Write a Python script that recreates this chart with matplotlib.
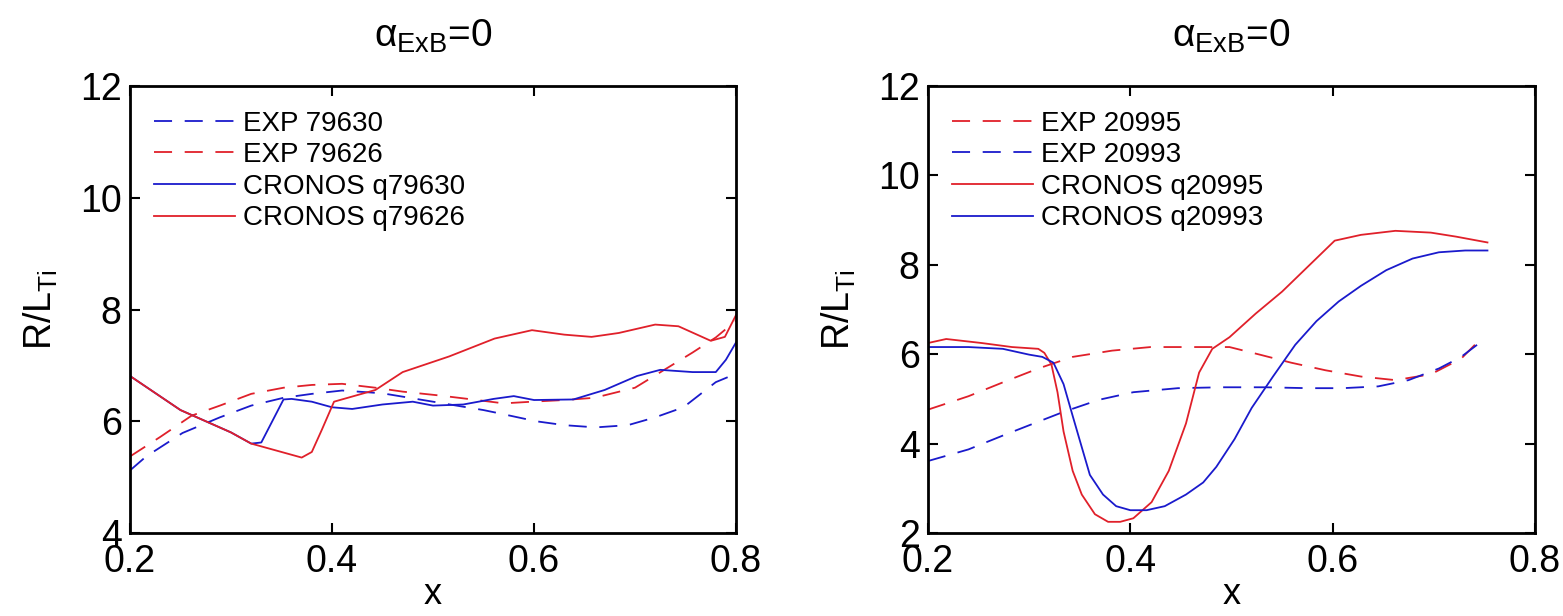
import matplotlib
matplotlib.use("Agg")
import matplotlib.pyplot as plt

plt.rcParams['font.family'] = ['Liberation Sans', 'DejaVu Sans']
plt.rcParams['mathtext.fontset'] = 'custom'
plt.rcParams['mathtext.rm'] = 'Liberation Sans'
plt.rcParams['mathtext.it'] = 'Liberation Sans'

# ---------------- Left panel data ----------------
L_exp79630_x = [0.20, 0.216, 0.252, 0.289, 0.32, 0.352, 0.38, 0.41, 0.45, 0.50, 0.55, 0.566, 0.602, 0.63, 0.661, 0.693, 0.72, 0.748, 0.78, 0.80]
L_exp79630_y = [5.12, 5.37, 5.79, 6.07, 6.28, 6.42, 6.49, 6.55, 6.50, 6.35, 6.20, 6.14, 6.00, 5.93, 5.89, 5.93, 6.07, 6.25, 6.70, 6.85]

L_exp79626_x = [0.20, 0.23, 0.261, 0.289, 0.32, 0.352, 0.38, 0.41, 0.443, 0.47, 0.507, 0.539, 0.57, 0.598, 0.63, 0.66, 0.70, 0.757, 0.78, 0.80]
L_exp79626_y = [5.37, 5.72, 6.10, 6.28, 6.49, 6.60, 6.65, 6.67, 6.60, 6.53, 6.46, 6.39, 6.32, 6.35, 6.38, 6.42, 6.60, 7.23, 7.50, 7.80]

L_cro79630_x = [0.20, 0.25, 0.30, 0.32, 0.33, 0.352, 0.36, 0.38, 0.40, 0.42, 0.45, 0.48, 0.50, 0.53, 0.56, 0.58, 0.60, 0.639, 0.67, 0.702, 0.725, 0.757, 0.78, 0.79, 0.80]
L_cro79630_y = [6.81, 6.20, 5.80, 5.60, 5.62, 6.39, 6.40, 6.35, 6.25, 6.22, 6.30, 6.35, 6.28, 6.30, 6.40, 6.45, 6.38, 6.39, 6.56, 6.81, 6.92, 6.88, 6.88, 7.10, 7.41]

L_cro79626_x = [0.20, 0.25, 0.30, 0.32, 0.35, 0.37, 0.38, 0.39, 0.402, 0.443, 0.47, 0.516, 0.561, 0.598, 0.63, 0.657, 0.684, 0.72, 0.743, 0.775, 0.789, 0.80]
L_cro79626_y = [6.81, 6.20, 5.80, 5.60, 5.45, 5.35, 5.45, 5.85, 6.35, 6.56, 6.88, 7.16, 7.48, 7.63, 7.55, 7.51, 7.58, 7.73, 7.70, 7.44, 7.51, 7.90]

# ---------------- Right panel data ----------------
R_exp20995_x = [0.20, 0.24, 0.274, 0.309, 0.343, 0.382, 0.42, 0.464, 0.498, 0.528, 0.559, 0.593, 0.628, 0.662, 0.697, 0.727, 0.748]
R_exp20995_y = [4.76, 5.06, 5.37, 5.68, 5.94, 6.08, 6.16, 6.16, 6.16, 5.99, 5.81, 5.64, 5.50, 5.42, 5.55, 5.90, 6.38]

R_exp20993_x = [0.20, 0.24, 0.274, 0.309, 0.334, 0.369, 0.403, 0.447, 0.49, 0.533, 0.576, 0.61, 0.645, 0.675, 0.705, 0.727, 0.748]
R_exp20993_y = [3.61, 3.87, 4.18, 4.49, 4.71, 4.98, 5.15, 5.24, 5.26, 5.26, 5.24, 5.24, 5.28, 5.42, 5.68, 5.94, 6.30]

R_cro20995_x = [0.20, 0.218, 0.253, 0.283, 0.309, 0.315, 0.322, 0.328, 0.334, 0.343, 0.352, 0.365, 0.378, 0.39, 0.403, 0.421, 0.438, 0.455, 0.468, 0.481, 0.498, 0.524, 0.55, 0.576, 0.602, 0.628, 0.662, 0.697, 0.722, 0.753]
R_cro20995_y = [6.25, 6.34, 6.25, 6.16, 6.12, 6.03, 5.77, 5.15, 4.27, 3.39, 2.86, 2.42, 2.25, 2.25, 2.33, 2.69, 3.39, 4.45, 5.59, 6.12, 6.38, 6.91, 7.40, 7.97, 8.54, 8.67, 8.76, 8.72, 8.63, 8.50]

R_cro20993_x = [0.20, 0.24, 0.274, 0.30, 0.313, 0.324, 0.334, 0.343, 0.352, 0.36, 0.373, 0.386, 0.40, 0.416, 0.434, 0.455, 0.472, 0.485, 0.503, 0.52, 0.541, 0.563, 0.584, 0.606, 0.628, 0.653, 0.679, 0.705, 0.731, 0.753]
R_cro20993_y = [6.16, 6.16, 6.12, 5.99, 5.94, 5.81, 5.33, 4.62, 3.92, 3.30, 2.86, 2.60, 2.51, 2.51, 2.60, 2.86, 3.13, 3.48, 4.10, 4.80, 5.50, 6.21, 6.74, 7.18, 7.53, 7.88, 8.14, 8.28, 8.32, 8.32]

title_text = r'$\alpha_{\mathrm{ExB}}$=0'
ylabel_text = r'R/L$_{\mathrm{Ti}}$'
xlabel_text = 'x'
xticks = [0.2, 0.4, 0.6, 0.8]
xticklabels = ['0.2', '0.4', '0.6', '0.8']
L_yticks = [4, 6, 8, 10, 12]
R_yticks = [2, 4, 6, 8, 10, 12]

RED = '#e0202a'
BLUE = '#1a1acc'
DASH = (10, 7)

W, H = 1563, 616
fig = plt.figure(figsize=(W / 100, H / 100), dpi=100)
top_px, bot_px = 86, 533
axL = fig.add_axes([130 / W, 1 - bot_px / H, (736 - 130) / W, (bot_px - top_px) / H])
axR = fig.add_axes([928 / W, 1 - bot_px / H, (1535 - 928) / W, (bot_px - top_px) / H])

lw = 1.3
axL.plot(L_exp79630_x, L_exp79630_y, color=BLUE, lw=lw, dashes=DASH, label='EXP 79630')
axL.plot(L_exp79626_x, L_exp79626_y, color=RED, lw=lw, dashes=DASH, label='EXP 79626')
axL.plot(L_cro79630_x, L_cro79630_y, color=BLUE, lw=lw, label='CRONOS q79630')
axL.plot(L_cro79626_x, L_cro79626_y, color=RED, lw=lw, label='CRONOS q79626')
axL.set_ylim(4, 12)
axL.set_yticks(L_yticks)

axR.plot(R_exp20995_x, R_exp20995_y, color=RED, lw=lw, dashes=DASH, label='EXP 20995')
axR.plot(R_exp20993_x, R_exp20993_y, color=BLUE, lw=lw, dashes=DASH, label='EXP 20993')
axR.plot(R_cro20995_x, R_cro20995_y, color=RED, lw=lw, label='CRONOS q20995')
axR.plot(R_cro20993_x, R_cro20993_y, color=BLUE, lw=lw, label='CRONOS q20993')
axR.set_ylim(2, 12)
axR.set_yticks(R_yticks)

for ax in (axL, axR):
    ax.set_xlim(0.2, 0.8)
    ax.set_xticks(xticks)
    ax.set_xticklabels(xticklabels)
    ax.tick_params(direction='in', length=7, width=1.5, top=True, right=True,
                   labelsize=27, pad=6)
    ax.tick_params(axis='x', pad=8)
    for s in ax.spines.values():
        s.set_linewidth(2)
    ax.set_title(title_text, fontsize=28, pad=28)
    ax.set_xlabel(xlabel_text, fontsize=26, labelpad=-2)
    ax.set_ylabel(ylabel_text, fontsize=27, labelpad=14)
    ax.legend(loc='upper left', bbox_to_anchor=(0.04, 0.945), frameon=False,
              fontsize=20, handlelength=2.9, handletextpad=0.3,
              labelspacing=0.2, borderaxespad=0, borderpad=0)

fig.savefig('out.png', dpi=100)
